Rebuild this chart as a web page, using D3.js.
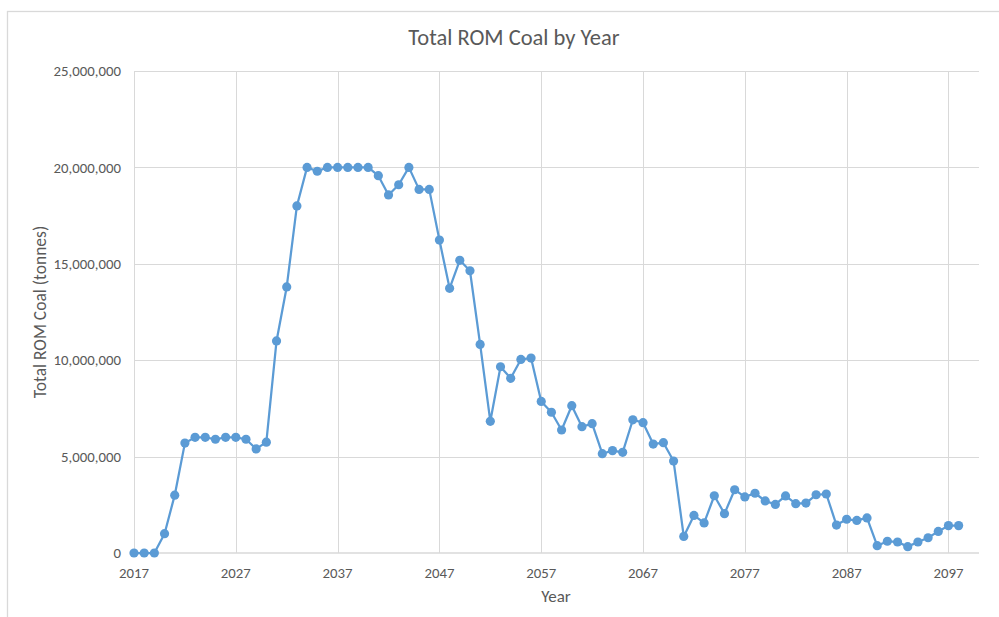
<!DOCTYPE html>
<html>
<head>
<meta charset="utf-8">
<script src="https://cdn.jsdelivr.net/npm/d3@7"></script>
<style>
  html, body { margin: 0; padding: 0; background: #fff; }
  svg { display: block; }
  text { font-family: Calibri, Carlito, Lato, "Open Sans", sans-serif; fill: #595959; }
</style>
</head>
<body>
<svg id="chart" width="999" height="617"></svg>
<script>
// Year categories shown on the horizontal axis
const years = [
  2017, 2018, 2019, 2020, 2021, 2022, 2023, 2024, 2025, 2026,
  2027, 2028, 2029, 2030, 2031, 2032, 2033, 2034, 2035, 2036,
  2037, 2038, 2039, 2040, 2041, 2042, 2043, 2044, 2045, 2046,
  2047, 2048, 2049, 2050, 2051, 2052, 2053, 2054, 2055, 2056,
  2057, 2058, 2059, 2060, 2061, 2062, 2063, 2064, 2065, 2066,
  2067, 2068, 2069, 2070, 2071, 2072, 2073, 2074, 2075, 2076,
  2077, 2078, 2079, 2080, 2081, 2082, 2083, 2084, 2085, 2086,
  2087, 2088, 2089, 2090, 2091, 2092, 2093, 2094, 2095, 2096,
  2097, 2098
];

// Total run-of-mine coal per year (tonnes)
const romCoal = [
  0, 0, 0, 1000000, 3000000, 5700000, 6000000, 6000000, 5900000, 6000000,
  6000000, 5900000, 5400000, 5750000, 11000000, 13800000, 18000000, 20000000, 19800000, 20000000,
  20000000, 20000000, 20000000, 20000000, 19570000, 18570000, 19100000, 20000000, 18860000, 18860000,
  16230000, 13730000, 15180000, 14640000, 10820000, 6830000, 9660000, 9060000, 10040000, 10110000,
  7860000, 7300000, 6380000, 7640000, 6550000, 6710000, 5150000, 5310000, 5220000, 6910000,
  6760000, 5650000, 5720000, 4770000, 860000, 1950000, 1560000, 2970000, 2040000, 3280000,
  2910000, 3100000, 2700000, 2520000, 2960000, 2560000, 2590000, 3020000, 3060000, 1450000,
  1750000, 1690000, 1820000, 380000, 610000, 570000, 330000, 570000, 790000, 1120000,
  1420000, 1420000
];

// Axis ticks
const xTickYears = [2017, 2027, 2037, 2047, 2057, 2067, 2077, 2087, 2097];
const yTickValues = [0, 5000000, 10000000, 15000000, 20000000, 25000000];

const titleText = "Total ROM Coal by Year";
const xTitle = "Year";
const yTitle = "Total ROM Coal (tonnes)";

const svg = d3.select("#chart");
const W = 999, H = 617;
const plot = { left: 134, right: 979, top: 71, bottom: 553 };

// Chart area border (top and left edges visible)
svg.append("rect")
  .attr("x", 7.5).attr("y", 11.5)
  .attr("width", W + 20).attr("height", H + 20)
  .attr("fill", "#fff")
  .attr("stroke", "#d9d9d9")
  .attr("stroke-width", 1.3);

// The category axis runs to 2100
const x = d3.scaleLinear().domain([2017, 2100]).range([plot.left, plot.right]);
const y = d3.scaleLinear().domain([0, 25000000]).range([plot.bottom, plot.top]);

// Horizontal gridlines
svg.append("g")
  .selectAll("line")
  .data(yTickValues.filter(v => v > 0))
  .join("line")
  .attr("x1", plot.left).attr("x2", plot.right)
  .attr("y1", d => Math.round(y(d)) + 0.5).attr("y2", d => Math.round(y(d)) + 0.5)
  .attr("stroke", "#d9d9d9").attr("stroke-width", 1);

// Vertical gridlines at labelled years
svg.append("g")
  .selectAll("line")
  .data(xTickYears)
  .join("line")
  .attr("x1", d => Math.round(x(d)) + 0.5).attr("x2", d => Math.round(x(d)) + 0.5)
  .attr("y1", plot.top).attr("y2", plot.bottom)
  .attr("stroke", "#d9d9d9").attr("stroke-width", 1);

// Horizontal axis line
svg.append("line")
  .attr("x1", plot.left).attr("x2", plot.right)
  .attr("y1", y(0)).attr("y2", y(0))
  .attr("stroke", "#d9d9d9").attr("stroke-width", 1.5);

// Y axis labels
const fmt = d3.format(",");
svg.append("g")
  .selectAll("text")
  .data(yTickValues)
  .join("text")
  .attr("x", 121)
  .attr("y", d => y(d))
  .attr("dy", "0.35em")
  .attr("text-anchor", "end")
  .attr("font-size", "14.8px")
  .text(d => fmt(d));

// X axis labels
svg.append("g")
  .selectAll("text")
  .data(xTickYears)
  .join("text")
  .attr("x", d => x(d))
  .attr("y", 578)
  .attr("text-anchor", "middle")
  .attr("font-size", "14.8px")
  .text(d => d);

// Titles
svg.append("text")
  .attr("x", 514).attr("y", 45)
  .attr("text-anchor", "middle")
  .attr("font-size", "22.5px")
  .text(titleText);

svg.append("text")
  .attr("x", 556).attr("y", 602)
  .attr("text-anchor", "middle")
  .attr("font-size", "17px")
  .text(xTitle);

svg.append("text")
  .attr("transform", `translate(46, ${(plot.top + plot.bottom) / 2}) rotate(-90)`)
  .attr("text-anchor", "middle")
  .attr("font-size", "17.5px")
  .text(yTitle);

// Series line and markers
const series = years.map((yr, i) => ({ year: yr, value: romCoal[i] }));
const line = d3.line().x(d => x(d.year)).y(d => y(d.value));

svg.append("path")
  .datum(series)
  .attr("d", line)
  .attr("fill", "none")
  .attr("stroke", "#5b9bd5")
  .attr("stroke-width", 2.25)
  .attr("stroke-linejoin", "round");

svg.append("g")
  .selectAll("circle")
  .data(series)
  .join("circle")
  .attr("cx", d => x(d.year))
  .attr("cy", d => y(d.value))
  .attr("r", 4.6)
  .attr("fill", "#5b9bd5");
</script>
</body>
</html>
